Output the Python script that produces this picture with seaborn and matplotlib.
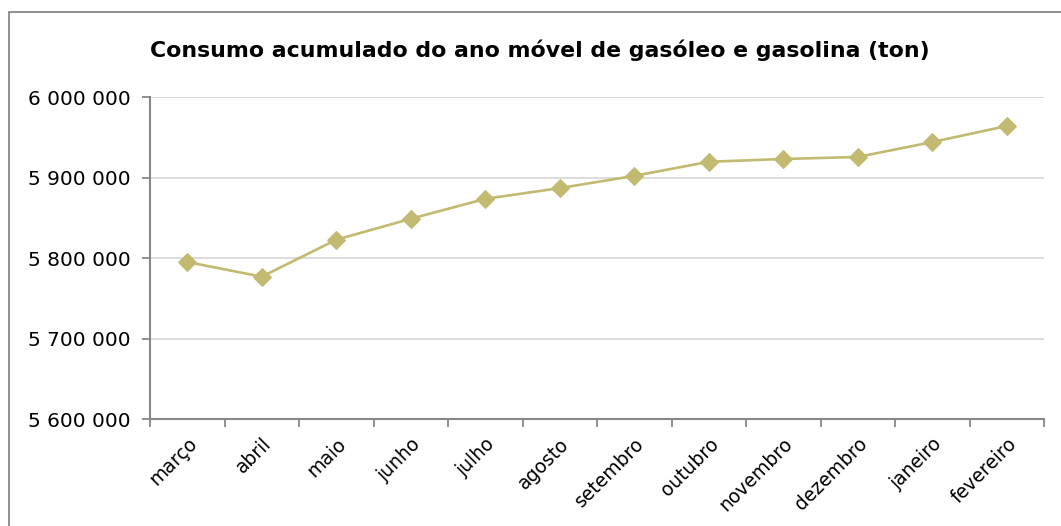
import matplotlib
matplotlib.use("Agg")
import matplotlib.pyplot as plt
import seaborn as sns
import pandas as pd
from matplotlib.patches import Rectangle
from matplotlib.ticker import FuncFormatter, FixedLocator

months = ["março", "abril", "maio", "junho", "julho", "agosto", "setembro",
          "outubro", "novembro", "dezembro", "janeiro", "fevereiro"]
consumo = [5795000, 5776800, 5822700, 5848700, 5873500, 5886800, 5902000,
           5919500, 5923000, 5925500, 5944000, 5964000]
y_ticks = [5600000, 5700000, 5800000, 5900000, 6000000]
title = "Consumo acumulado do ano móvel de gasóleo e gasolina (ton)"

sns.set_theme(style="white")
plt.rcParams['font.family'] = ['DejaVu Sans']

W, H = 1061, 526
fig = plt.figure(figsize=(W / 100, H / 100), dpi=100)
ax = fig.add_axes([150 / W, 1 - 419 / H, (1044 - 150) / W, (419 - 97) / H])

df = pd.DataFrame({"mes": months, "consumo": consumo})
sns.lineplot(data=df, x="mes", y="consumo", ax=ax, sort=False,
             color="#C2BA70", linewidth=1.9, marker="D", markersize=9.5,
             markeredgecolor="#C2BA70", markerfacecolor="#C2BA70")

ax.set_xlim(-0.5, len(months) - 0.5)
ax.set_ylim(y_ticks[0], y_ticks[-1])
ax.set_yticks(y_ticks)
ax.yaxis.set_major_formatter(FuncFormatter(lambda v, p: f"{int(v):,}".replace(",", " ")))
ax.yaxis.grid(True, color="#D9D9D9", linewidth=1.3)
ax.xaxis.grid(False)

ax.set_xticks(range(len(months)))
ax.set_xticklabels(months, rotation=45, ha="right", rotation_mode="anchor")
ax.xaxis.set_minor_locator(FixedLocator([i - 0.5 for i in range(len(months) + 1)]))
ax.tick_params(axis="x", which="major", length=0, pad=11, labelsize=13.5, colors="black")
ax.tick_params(axis="x", which="minor", length=6, width=1.3, color="#888888", bottom=True)
ax.tick_params(axis="y", which="major", length=6, width=1.3, color="#888888", left=True,
               labelsize=14.5, pad=8, labelcolor="black")

ax.set_xlabel("")
ax.set_ylabel("")
for s in ["top", "right"]:
    ax.spines[s].set_visible(False)
for s in ["left", "bottom"]:
    ax.spines[s].set_color("#888888")
    ax.spines[s].set_linewidth(1.5)

fig.text(540 / W, 1 - 50 / H, title, ha="center", va="center",
         fontsize=15.8, fontweight="bold", color="black")

fig.patches.append(Rectangle((8.5 / W, -0.1), 1.2, 1.1 - 12.5 / H,
                             transform=fig.transFigure, fill=False,
                             edgecolor="#878787", linewidth=1.3))

fig.savefig("out.png", dpi=100, facecolor="white")
